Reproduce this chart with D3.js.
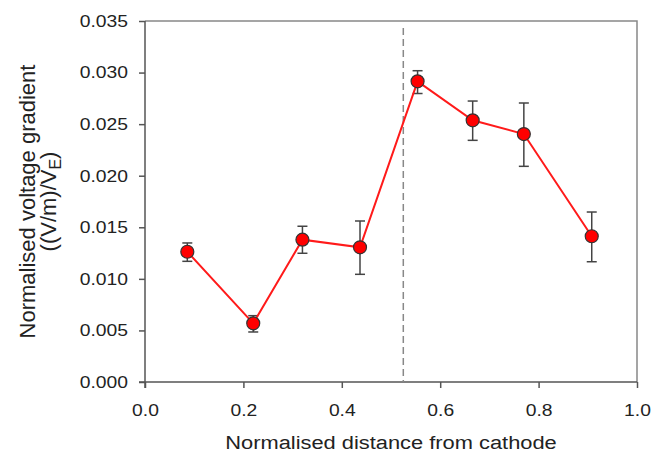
<!DOCTYPE html>
<html>
<head>
<meta charset="utf-8">
<script src="https://cdn.jsdelivr.net/npm/d3@7"></script>
<style>
  body { margin: 0; background: #fff; }
  text { font-family: "Liberation Sans", Arial, sans-serif; fill: #222; }
</style>
</head>
<body>
<div id="chart"></div>
<script>
// data
const distance = [0.086, 0.220, 0.320, 0.437, 0.554, 0.666, 0.770, 0.908];
const gradient = [0.01263, 0.00569, 0.01380, 0.01306, 0.02915, 0.02537, 0.02404, 0.01413];
const errUpper = [0.01348, 0.00643, 0.01510, 0.01561, 0.03018, 0.02724, 0.02705, 0.01648];
const errLower = [0.01170, 0.00485, 0.01248, 0.01044, 0.02797, 0.02343, 0.02091, 0.01166];
const boundary = 0.525;
const xTicks = [0, 0.2, 0.4, 0.6, 0.8, 1.0];
const yTicks = [0, 0.005, 0.01, 0.015, 0.02, 0.025, 0.03, 0.035];

const data = distance.map((d, i) => ({
  x: d, y: gradient[i], hi: errUpper[i], lo: errLower[i]
}));

// set the dimensions and margins of the graph
const margin = { top: 21, right: 29, bottom: 74, left: 145 },
  width = 666 - margin.left - margin.right,
  height = 456 - margin.top - margin.bottom;

// the original text looks a bit wide, so stretch it horizontally
const stretch = 1.15;

const svg = d3
  .select("#chart")
  .append("svg")
  .attr("width", 666)
  .attr("height", 456)
  .append("g")
  .attr("transform", `translate(${margin.left},${margin.top})`);

const x = d3.scaleLinear().domain([0, 1]).range([0, width]);
const y = d3.scaleLinear().domain([0, 0.035]).range([height, 0]);

// frame (top and right)
svg.append("path")
  .attr("d", `M0,0H${width}V${height}`)
  .attr("fill", "none")
  .attr("stroke", "#888")
  .attr("stroke-width", 1.5);

// X axis
const xAxis = svg.append("g")
  .attr("transform", `translate(0, ${height})`)
  .call(d3.axisBottom(x).tickValues(xTicks).tickFormat(d3.format(".1f")).tickSizeOuter(0).tickSize(6).tickPadding(16));

// Y axis
const yAxis = svg.append("g")
  .call(d3.axisLeft(y).tickValues(yTicks).tickFormat(d3.format(".3f")).tickSizeOuter(0).tickSize(6).tickPadding(8.8));

[xAxis, yAxis].forEach((g) => {
  g.selectAll("path, line").attr("stroke", "#555").attr("stroke-width", 1.5);
  g.selectAll("text")
    .attr("font-size", "16.8px")
    .attr("fill", "#222")
    .attr("transform", `scale(${stretch},1)`);
});
yAxis.select(".domain").attr("d", `M0,0V${height + 6}`);
xAxis.select(".domain").attr("d", `M-6,0H${width}`);

// dashed boundary line
svg.append("line")
  .attr("x1", x(boundary)).attr("x2", x(boundary))
  .attr("y1", y(0.035) + 7).attr("y2", height)
  .attr("stroke", "#888")
  .attr("stroke-width", 1.5)
  .attr("stroke-dasharray", "7,4");

// axis titles
svg.append("text")
  .attr("transform", `translate(${width / 2},${height + 66.5}) scale(${stretch},1)`)
  .attr("text-anchor", "middle")
  .attr("font-size", "19px")
  .text("Normalised distance from cathode");

const yTitle = svg.append("text")
  .attr("transform", `translate(${35 - margin.left},${height / 2}) rotate(-90)`)
  .attr("text-anchor", "middle")
  .attr("font-size", "22px");
yTitle.append("tspan").attr("x", 0).attr("dy", 0).text("Normalised voltage gradient");
yTitle.append("tspan").attr("x", 0).attr("dy", 21).text("((V/m)/V");
yTitle.append("tspan").attr("dy", 5).attr("font-size", "16px").text("E");
yTitle.append("tspan").attr("dy", -5).text(")");

// error bars
const bars = svg.append("g").attr("stroke", "#444").attr("stroke-width", 1.5);
bars.selectAll("line.v")
  .data(data).join("line").attr("class", "v")
  .attr("x1", (d) => x(d.x)).attr("x2", (d) => x(d.x))
  .attr("y1", (d) => y(d.hi)).attr("y2", (d) => y(d.lo));
bars.selectAll("line.hi")
  .data(data).join("line").attr("class", "hi")
  .attr("x1", (d) => x(d.x) - 5).attr("x2", (d) => x(d.x) + 5)
  .attr("y1", (d) => y(d.hi)).attr("y2", (d) => y(d.hi));
bars.selectAll("line.lo")
  .data(data).join("line").attr("class", "lo")
  .attr("x1", (d) => x(d.x) - 5).attr("x2", (d) => x(d.x) + 5)
  .attr("y1", (d) => y(d.lo)).attr("y2", (d) => y(d.lo));

// the line
svg.append("path")
  .datum(data)
  .attr("fill", "none")
  .attr("stroke", "#ff1a1a")
  .attr("stroke-width", 2)
  .attr("d", d3.line().x((d) => x(d.x)).y((d) => y(d.y)));

// the circles
svg.selectAll("circle")
  .data(data)
  .join("circle")
  .attr("fill", "#ff0000")
  .attr("stroke", "#333")
  .attr("stroke-width", 1.2)
  .attr("cx", (d) => x(d.x))
  .attr("cy", (d) => y(d.y))
  .attr("r", 6.5);
</script>
</body>
</html>
